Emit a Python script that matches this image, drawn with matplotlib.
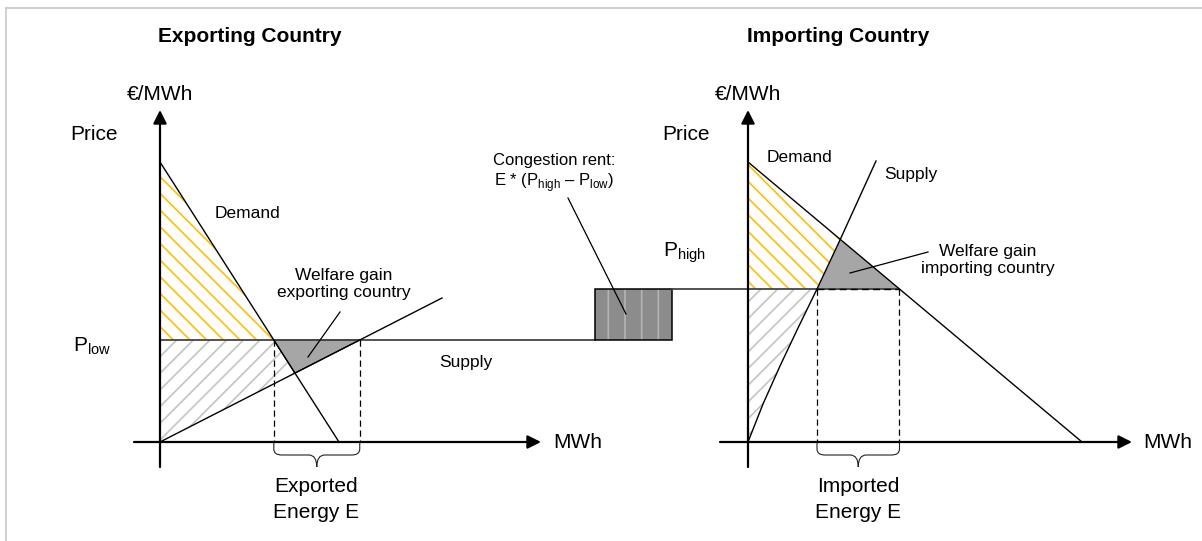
import numpy as np
import matplotlib.pyplot as plt
from matplotlib.patches import Polygon, Rectangle, PathPatch
from matplotlib.path import Path

plt.rcParams['font.family'] = ['Liberation Sans', 'DejaVu Sans']
plt.rcParams['mathtext.fontset'] = 'custom'
plt.rcParams['mathtext.rm'] = 'Liberation Sans'
plt.rcParams['hatch.linewidth'] = 1.2

# diagram coordinates = pixels on the 1202 x 541 canvas (y grows downwards)
BASE = 442          # quantity axis
P_LOW = 340
P_HIGH = 289

exp_axis_x = 160
imp_axis_x = 748

exp_demand_x = [160, 339]
exp_demand_y = [162, 442]
exp_supply_x = [160, 442]
exp_supply_y = [442, 298]

imp_demand_x = [748, 1082]
imp_demand_y = [162, 442]
imp_supply_x = [748, 763, 780, 798, 817, 840, 876]
imp_supply_y = [442, 404, 366, 328, 289, 240, 161]

rent_box = [595, 672]   # left/right of congestion rent block

YELLOW = '#FFC000'
HATCH_GRAY = '#C4C4C4'
LINE_GRAY = '#444444'


def x_at(y, xs, ys):
    xs = np.asarray(xs, float)
    ys = np.asarray(ys, float)
    order = np.argsort(ys)
    return np.interp(y, ys[order], xs[order])


def crossing(dx, dy, sx, sy):
    yy = np.linspace(min(dy), max(dy), 4000)
    diff = x_at(yy, dx, dy) - x_at(yy, sx, sy)
    i = np.argmin(np.abs(diff))
    return x_at(yy[i], dx, dy), yy[i]


def brace(ax, x0, x1, top=442, mid=455, tip=467):
    xm = (x0 + x1) / 2
    verts = [(x0, top), (x0, mid - 6), (x0, mid), (x0 + 8, mid),
             (xm - 8, mid), (xm, mid), (xm, tip),
             (xm, mid), (xm + 8, mid),
             (x1 - 8, mid), (x1, mid), (x1, mid - 6), (x1, top)]
    codes = [Path.MOVETO, Path.LINETO, Path.CURVE3, Path.CURVE3,
             Path.LINETO, Path.CURVE3, Path.CURVE3,
             Path.CURVE3, Path.CURVE3,
             Path.LINETO, Path.CURVE3, Path.CURVE3, Path.LINETO]
    ax.add_patch(PathPatch(Path(verts, codes), fill=False, lw=0.8,
                           edgecolor='#222222', zorder=3))


def arrow(ax, start, tip):
    ax.annotate('', xy=tip, xytext=start,
                arrowprops=dict(arrowstyle='-|>', lw=1.6, color='black',
                                mutation_scale=20, shrinkA=0, shrinkB=0),
                zorder=5)


fig = plt.figure(figsize=(12.02, 5.41), dpi=100)
ax = fig.add_axes([0, 0, 1, 1])
ax.set_xlim(0, 1202)
ax.set_ylim(541, 0)
ax.axis('off')

# light frame
ax.plot([6, 1202], [8, 8], color='#C8C8C8', lw=1.2)
ax.plot([6, 6], [8, 541], color='#C8C8C8', lw=1.2)

# ---------- exporting country ----------
e_lo = x_at(P_LOW, exp_demand_x, exp_demand_y)
e_hi = x_at(P_LOW, exp_supply_x, exp_supply_y)
cx, cy = crossing(exp_demand_x, exp_demand_y, exp_supply_x, exp_supply_y)

ax.add_patch(Polygon([(exp_axis_x, exp_demand_y[0]), (exp_axis_x, P_LOW), (e_lo, P_LOW)],
                     facecolor='none', edgecolor=YELLOW, hatch='\\\\', lw=0, zorder=1))
ax.add_patch(Polygon([(exp_axis_x, P_LOW), (e_lo, P_LOW), (cx, cy), (exp_axis_x, BASE)],
                     facecolor='none', edgecolor=HATCH_GRAY, hatch='//', lw=0, zorder=1))
ax.add_patch(Polygon([(e_lo, P_LOW), (e_hi, P_LOW), (cx, cy)],
                     facecolor='#A6A6A6', edgecolor='black', lw=0.8, zorder=2))

ax.plot([exp_axis_x, rent_box[0]], [P_LOW, P_LOW], color=LINE_GRAY, lw=1.3, zorder=3)
ax.plot(exp_demand_x, exp_demand_y, color='black', lw=1.0, zorder=3)
ax.plot(exp_supply_x, exp_supply_y, color='black', lw=1.0, zorder=3)
for x in (e_lo, e_hi):
    ax.plot([x, x], [P_LOW, BASE], color='black', lw=0.9, ls=(0, (5, 3)), zorder=3)
brace(ax, e_lo, e_hi)

arrow(ax, (exp_axis_x, 467), (exp_axis_x, 110))
arrow(ax, (134, BASE), (541, BASE))

# ---------- congestion rent ----------
ax.add_patch(Rectangle((rent_box[0], P_HIGH), rent_box[1] - rent_box[0], P_LOW - P_HIGH,
                       facecolor='#8C8C8C', edgecolor='#B4B4B4', hatch='|', lw=0, zorder=2))
ax.add_patch(Rectangle((rent_box[0], P_HIGH), rent_box[1] - rent_box[0], P_LOW - P_HIGH,
                       facecolor='none', edgecolor='black', lw=1.1, zorder=3))

# ---------- importing country ----------
i_lo = x_at(P_HIGH, imp_supply_x, imp_supply_y)
i_hi = x_at(P_HIGH, imp_demand_x, imp_demand_y)
kx, ky = crossing(imp_demand_x, imp_demand_y, imp_supply_x, imp_supply_y)
sup_pts = list(zip(imp_supply_x, imp_supply_y))
below = [p for p in sup_pts if p[1] > P_HIGH]
between = [p for p in sup_pts if ky < p[1] < P_HIGH]

ax.add_patch(Polygon([(imp_axis_x, imp_demand_y[0]), (imp_axis_x, P_HIGH), (i_lo, P_HIGH)]
                     + between + [(kx, ky)],
                     facecolor='none', edgecolor=YELLOW, hatch='\\\\', lw=0, zorder=1))
ax.add_patch(Polygon([(imp_axis_x, P_HIGH), (i_lo, P_HIGH)] + below[::-1],
                     facecolor='none', edgecolor=HATCH_GRAY, hatch='//', lw=0, zorder=1))
ax.add_patch(Polygon([(i_lo, P_HIGH), (i_hi, P_HIGH), (kx, ky)] + between[::-1],
                     facecolor='#A6A6A6', edgecolor='none', lw=0, zorder=2))

ax.plot([rent_box[1], i_hi], [P_HIGH, P_HIGH], color=LINE_GRAY, lw=1.3, zorder=3)
ax.plot([i_lo, i_hi], [P_HIGH, P_HIGH], color='black', lw=1.0, ls=(0, (5, 3)), zorder=3)
ax.plot(imp_demand_x, imp_demand_y, color='black', lw=1.0, zorder=3)
ax.plot(imp_supply_x, imp_supply_y, color='black', lw=1.0, zorder=3)
for x in (i_lo, i_hi):
    ax.plot([x, x], [P_HIGH, BASE], color='black', lw=0.9, ls=(0, (5, 3)), zorder=3)
brace(ax, i_lo, i_hi)

arrow(ax, (imp_axis_x, 467), (imp_axis_x, 110))
arrow(ax, (720, BASE), (1132, BASE))

# ---------- leader lines ----------
ax.plot([340, 308], [312, 357], color='black', lw=0.9, zorder=4)
ax.plot([928, 850], [252, 273], color='black', lw=0.9, zorder=4)
ax.plot([568, 626], [198, 314], color='black', lw=0.9, zorder=4)

# ---------- text ----------
big = 15
mid = 12.5
ax.text(250, 36, 'Exporting Country', fontsize=15, fontweight='bold', ha='center', va='center')
ax.text(838, 36, 'Importing Country', fontsize=15, fontweight='bold', ha='center', va='center')
for x in (exp_axis_x, imp_axis_x):
    ax.text(x, 95, '€/MWh', fontsize=big, ha='center', va='center')
ax.text(94, 134, 'Price', fontsize=big, ha='center', va='center')
ax.text(686, 135, 'Price', fontsize=big, ha='center', va='center')
ax.text(553, BASE, 'MWh', fontsize=big, ha='left', va='center')
ax.text(1143, BASE, 'MWh', fontsize=big, ha='left', va='center')
ax.text(73, 351, r'P$_{\mathrm{low}}$', fontsize=big, ha='left', va='baseline')
ax.text(663, 256, r'P$_{\mathrm{high}}$', fontsize=big, ha='left', va='baseline')

ax.text(247, 213, 'Demand', fontsize=mid, ha='center', va='center')
ax.text(799, 158, 'Demand', fontsize=mid, ha='center', va='center')
ax.text(466, 362, 'Supply', fontsize=mid, ha='center', va='center')
ax.text(911, 175, 'Supply', fontsize=mid, ha='center', va='center')

ax.text(344, 284, 'Welfare gain\nexporting country', fontsize=mid, ha='center',
        va='center', linespacing=1.2)
ax.text(988, 260, 'Welfare gain\nimporting country', fontsize=mid, ha='center',
        va='center', linespacing=1.2)
ax.text(554, 160, 'Congestion rent:', fontsize=12, ha='center', va='center')
ax.text(554, 183, r'E * (P$_{\mathrm{high}}$ – P$_{\mathrm{low}}$)', fontsize=12,
        ha='center', va='center')

ax.text(316, 487, 'Exported', fontsize=big, ha='center', va='center')
ax.text(316, 513, 'Energy E', fontsize=big, ha='center', va='center')
ax.text((i_lo + i_hi) / 2, 487, 'Imported', fontsize=big, ha='center', va='center')
ax.text((i_lo + i_hi) / 2, 513, 'Energy E', fontsize=big, ha='center', va='center')

fig.savefig('out.png', dpi=100)
